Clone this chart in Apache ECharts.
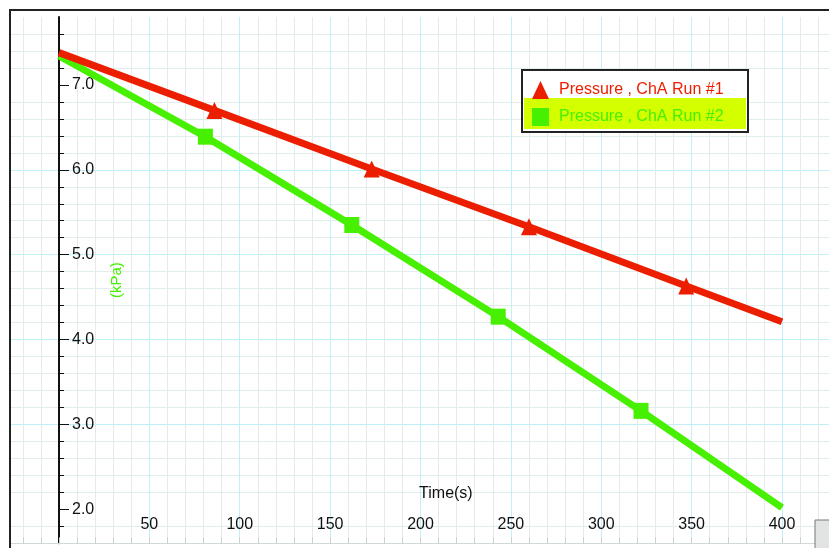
<!DOCTYPE html>
<html>
<head>
<meta charset="utf-8">
<script src="https://cdn.jsdelivr.net/npm/echarts@6/dist/echarts.min.js"></script>
<style>
  html, body { margin: 0; padding: 0; background: #fff; }
  #chart { width: 829px; height: 548px; }
</style>
</head>
<body>
<div id="chart"></div>
<script>
const run1Name = 'Pressure , ChA Run #1';
const run2Name = 'Pressure , ChA Run #2';

// time (s) / pressure (kPa)
const run1Times = [0, 86, 173, 260, 347, 400];
const run1Values = [7.38, 6.70, 6.01, 5.33, 4.63, 4.21];
const run1Marks = [false, true, true, true, true, false];

const run2Times = [0, 81, 162, 243, 322, 400];
const run2Values = [7.34, 6.39, 5.35, 4.27, 3.16, 2.02];
const run2Marks = [false, true, true, true, true, false];

const xLabels = [50, 100, 150, 200, 250, 300, 350, 400];
const yLabels = [2, 3, 4, 5, 6, 7];

const red = '#ec1e00';
const green = '#46f000';
const majorGrid = '#c0f0f8';
const minorGrid = '#e2ecec';
const font = 'Liberation Sans';

function points(times, values, marks) {
  return times.map((t, i) => ({
    value: [t, values[i]],
    symbol: marks[i] ? undefined : 'none',
  }));
}

const chart = echarts.init(document.getElementById('chart'), null, { renderer: 'canvas' });

chart.setOption({
  animation: false,
  backgroundColor: '#fff',
  grid: { left: 4.76, right: 0, top: 17, bottom: 4.7, outerBoundsMode: 'none' },
  legend: {
    orient: 'vertical',
    left: 532,
    top: 81,
    itemWidth: 17,
    itemHeight: 18,
    itemGap: 9,
    padding: 0,
    textStyle: { fontFamily: font, fontSize: 16, padding: [0, 0, 0, 5] },
    data: [
      { name: run1Name, icon: 'triangle', textStyle: { color: red } },
      { name: run2Name, icon: 'rect', textStyle: { color: green } },
    ],
  },
  xAxis: {
    type: 'value',
    min: -30,
    max: 426,
    minInterval: 50,
    maxInterval: 50,
    name: 'Time(s)',
    nameLocation: 'middle',
    nameGap: -58,
    nameTextStyle: { color: '#111', fontFamily: font, fontSize: 16, padding: [0, 0, 0, 58] },
    axisLine: { show: true, onZero: false, lineStyle: { color: '#d0d8d8', width: 1 } },
    axisTick: { inside: true, length: 6, lineStyle: { color: '#c8d0d0' } },
    minorTick: { show: true, splitNumber: 5, length: 6, lineStyle: { color: '#c8d0d0' } },
    axisLabel: {
      inside: true,
      margin: 11,
      color: '#111',
      fontFamily: font,
      fontSize: 16,
      customValues: xLabels,
    },
    splitLine: { show: true, showMinLine: false, showMaxLine: false, lineStyle: { color: majorGrid } },
    minorSplitLine: { show: true, lineStyle: { color: minorGrid } },
  },
  yAxis: {
    type: 'value',
    position: 'left',
    offset: -54.24, // puts the axis at t = 0
    min: 1.6,
    max: 7.8,
    minInterval: 1,
    maxInterval: 1,
    name: '(kPa)',
    nameLocation: 'middle',
    nameRotate: 90,
    nameGap: -65,
    nameTextStyle: { color: green, fontFamily: font, fontSize: 15 },
    axisLine: { show: true, onZero: false, lineStyle: { color: '#111', width: 2 } },
    axisTick: { inside: true, length: 10, lineStyle: { color: '#111' }, customValues: yLabels },
    minorTick: { show: true, splitNumber: 5, length: 5, lineStyle: { color: '#111' } },
    axisLabel: {
      inside: true,
      margin: 13,
      color: '#111',
      fontFamily: font,
      fontSize: 16,
      customValues: yLabels,
      formatter: (v) => v.toFixed(1),
    },
    splitLine: { show: true, showMinLine: false, showMaxLine: false, lineStyle: { color: majorGrid } },
    minorSplitLine: { show: true, lineStyle: { color: minorGrid } },
  },
  series: [
    {
      name: run2Name,
      type: 'line',
      color: green,
      symbol: 'rect',
      symbolSize: [15, 16],
      showSymbol: true,
      lineStyle: { width: 7, color: green },
      itemStyle: { color: green },
      data: points(run2Times, run2Values, run2Marks),
    },
    {
      name: run1Name,
      type: 'line',
      color: red,
      symbol: 'triangle',
      symbolSize: [16, 17],
      showSymbol: true,
      lineStyle: { width: 7, color: red },
      itemStyle: { color: red },
      data: points(run1Times, run1Values, run1Marks),
    },
  ],
  graphic: [
    { type: 'rect', z: 3, shape: { x: 522, y: 70, width: 226, height: 62 },
      style: { fill: '#fff', stroke: '#222', lineWidth: 2 } },
    { type: 'rect', z: 3, shape: { x: 524, y: 98, width: 222, height: 31 },
      style: { fill: '#d4ff00' } },
    { type: 'rect', z: 10, shape: { x: 0, y: 0, width: 10, height: 548 },
      style: { fill: '#fff' } },
    { type: 'rect', z: 10, shape: { x: 10, y: 10, width: 840, height: 560 },
      style: { fill: 'none', stroke: '#222', lineWidth: 2 } },
    { type: 'rect', z: 10, shape: { x: 815, y: 520, width: 20, height: 30 },
      style: { fill: '#e2e4e4', stroke: '#777', lineWidth: 1 } },
  ],
});
</script>
</body>
</html>
